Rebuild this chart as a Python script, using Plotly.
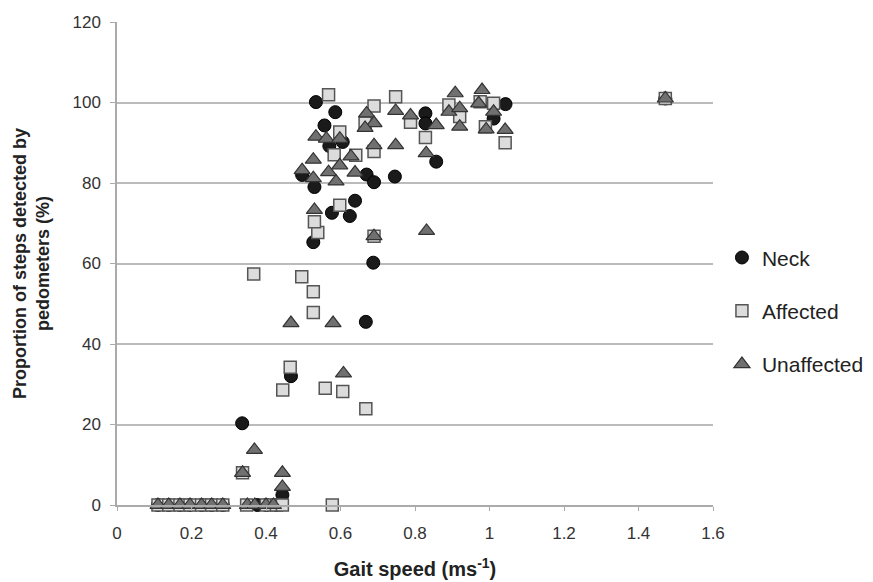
import plotly.graph_objects as go

# Neck
neck_x = [0.11, 0.139, 0.169, 0.196, 0.227, 0.254, 0.284, 0.377, 0.401, 0.428, 0.444,
          0.336, 0.467, 0.668, 0.688, 0.527, 0.577, 0.625, 0.639, 0.530, 0.497,
          0.670, 0.690, 0.746, 0.570, 0.606, 0.557, 0.586, 0.534, 0.828, 0.828,
          0.857, 1.011, 1.043, 1.472]
neck_y = [0, 0, 0, 0, 0, 0, 0, 0, 0, 0, 2.5,
          20.3, 32, 45.5, 60.2, 65.3, 72.6, 71.8, 75.6, 79, 82,
          82.1, 80.2, 81.6, 89.2, 90.2, 94.3, 97.6, 100.1, 97.3, 94.8,
          85.3, 96, 99.6, 101]

# Affected
aff_x = [0.11, 0.139, 0.169, 0.196, 0.227, 0.254, 0.284, 0.348, 0.401, 0.428, 0.444, 0.578,
         0.337, 0.465, 0.445, 0.559, 0.606, 0.668,
         0.367, 0.496, 0.527, 0.527,
         0.539, 0.530, 0.598, 0.690,
         0.583, 0.641, 0.598, 0.568,
         0.690, 0.666, 0.690,
         0.748, 0.788, 0.828,
         0.891, 0.920, 0.975, 1.011, 0.989, 1.042,
         1.472]
aff_y = [0, 0, 0, 0, 0, 0, 0, 0, 0, 0, 0, 0,
         8, 34.2, 28.6, 29, 28.2, 23.9,
         57.4, 56.7, 53, 47.8,
         67.7, 70.4, 74.5, 66.8,
         87, 86.9, 92.7, 101.9,
         99.1, 94.9, 87.8,
         101.4, 95.1, 91.3,
         99.4, 96.5, 100.2, 99.8, 94, 90,
         101]

# Unaffected
unaff_x = [0.11, 0.139, 0.169, 0.196, 0.227, 0.254, 0.284, 0.35, 0.37, 0.40, 0.42,
           0.337, 0.369, 0.444, 0.444,
           0.467, 0.580, 0.608,
           0.690, 0.831, 0.530,
           0.527, 0.588, 0.568, 0.639, 0.497, 0.598, 0.527, 0.628,
           0.534, 0.562, 0.598,
           0.670, 0.690, 0.666, 0.690,
           0.748, 0.748, 0.788, 0.830, 0.857,
           0.891, 0.908, 0.920, 0.920,
           0.980, 0.971, 1.011, 0.991, 1.042,
           1.472]
unaff_y = [0, 0, 0, 0, 0, 0, 0, 0, 0, 0, 0,
           8, 13.7, 4.5, 8,
           45.2, 45.2, 32.7,
           66.8, 68.1, 73.3,
           81.2, 80.4, 82.7, 82.6, 83.2, 84.4, 85.8, 86.6,
           91.5, 91, 91,
           97.3, 94.9, 93.7, 89.4,
           97.9, 89.4, 96.8, 87.4, 94.4,
           97.7, 102.3, 98.6, 94,
           103.1, 99.8, 97.7, 93.3, 93.2,
           101]

x_ticks = [0, 0.2, 0.4, 0.6, 0.8, 1, 1.2, 1.4, 1.6]
y_ticks = [0, 20, 40, 60, 80, 100, 120]

fig = go.Figure()
fig.add_trace(go.Scatter(
    x=neck_x, y=neck_y, mode="markers", name="Neck", legendgroup="a",
    cliponaxis=False,
    marker=dict(symbol="circle", size=13, color="#1a1a1a",
                line=dict(color="#000000", width=1))))
fig.add_trace(go.Scatter(
    x=aff_x, y=aff_y, mode="markers", name="Affected", legendgroup="b",
    cliponaxis=False,
    marker=dict(symbol="square", size=12, color="#dcdcdc",
                line=dict(color="#555555", width=1.5))))
fig.add_trace(go.Scatter(
    x=unaff_x, y=unaff_y, mode="markers", name="Unaffected", legendgroup="c",
    cliponaxis=False,
    marker=dict(symbol="triangle-up", size=14, color="#707070",
                line=dict(color="#333333", width=1.2))))

fig.update_layout(
    width=873, height=582,
    margin=dict(l=109, r=166, t=14, b=85),
    paper_bgcolor="white", plot_bgcolor="white",
    font=dict(family="Liberation Sans, Arial, sans-serif", color="#333333", size=17),
    showlegend=True,
    legend=dict(x=1.015, xanchor="left", y=0.402, yanchor="middle",
                traceorder="grouped", tracegroupgap=23,
                font=dict(size=21, color="#222222"),
                bgcolor="rgba(0,0,0,0)", itemwidth=30),
    xaxis=dict(range=[0, 1.6], tickvals=x_ticks, ticktext=[str(v) for v in x_ticks],
               showgrid=False, zeroline=False, showline=True, linecolor="#aaaaaa",
               linewidth=1.5, ticks="outside", ticklen=4, tickcolor="#aaaaaa",
               automargin=False, ticklabelstandoff=8,
               title=dict(text="<b>Gait speed (ms<sup>-1</sup>)</b>",
                          font=dict(size=20, color="#222222"), standoff=20)),
    yaxis=dict(range=[0, 120], tickvals=y_ticks,
               showgrid=True, gridcolor="#bbbbbb", gridwidth=1.5, zeroline=False,
               showline=True, linecolor="#aaaaaa", linewidth=1.5,
               ticks="outside", ticklen=5, tickcolor="#aaaaaa", automargin=False,
               ticklabelstandoff=6,
               title=dict(text="<b>Proportion of steps detected by<br>pedometers (%)</b>",
                          font=dict(size=18, color="#222222"), standoff=18)),
)

fig.write_html("out.html")
